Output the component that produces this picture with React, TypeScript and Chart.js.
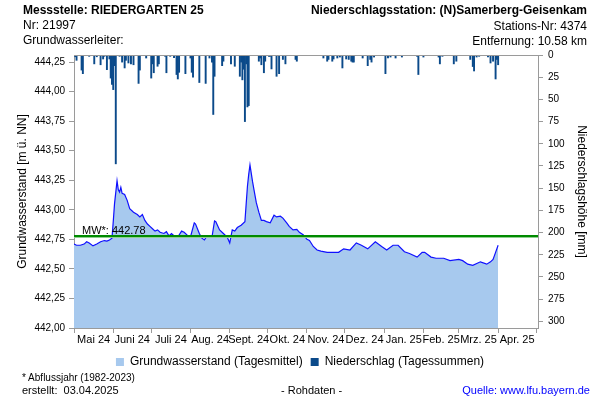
import React, { useEffect, useRef } from 'react';
import { Chart, registerables } from 'chart.js';

Chart.register(...registerables);

const FONT = '"Liberation Sans", Arial, Helvetica, sans-serif';

// x axis: days counted from 1 May 2024
const MONTH_LABELS = ['Mai 24', 'Juni 24', 'Juli 24', 'Aug. 24', 'Sept. 24', 'Okt. 24', 'Nov. 24', 'Dez. 24', 'Jan. 25', 'Feb. 25', 'Mrz. 25', 'Apr. 25'];
const MONTH_START_DAYS = [0, 31, 61, 92, 123, 153, 184, 214, 245, 276, 304, 335, 365];

const LEVEL_TICKS = [442, 442.25, 442.5, 442.75, 443, 443.25, 443.5, 443.75, 444, 444.25];
const PRECIP_TICKS = [0, 25, 50, 75, 100, 125, 150, 175, 200, 225, 250, 275, 300];

const MEAN_LEVEL = 442.78;

// Grundwasserstand (Tagesmittel) [m ü. NN]
const GW_DAYS = [0, 2, 5, 8, 10, 12, 15, 18, 21, 24, 26, 28, 30, 31, 32, 34, 35, 36, 37, 38, 40, 42, 44, 47, 50, 52, 54, 56, 58, 60, 62, 64, 66, 68, 71, 73, 75, 77, 80, 82, 85, 87, 90, 92, 95, 96, 99, 101, 103, 105, 107, 109, 111, 112, 115, 118, 121, 123, 125, 127, 129, 132, 135, 136, 137, 138, 139, 141, 142, 144, 146, 148, 150, 152, 155, 158, 160, 163, 165, 168, 170, 173, 176, 178, 181, 184, 186, 189, 192, 195, 200, 205, 209, 213, 218, 223, 227, 232, 238, 243, 247, 252, 256, 261, 265, 271, 275, 277, 282, 286, 292, 297, 304, 307, 311, 315, 321, 326, 329, 331, 333, 335];
const GW_LEVEL = [442.71, 442.70, 442.70, 442.71, 442.73, 442.72, 442.695, 442.71, 442.73, 442.74, 442.735, 442.745, 442.76, 442.90, 443.05, 443.245, 443.17, 443.15, 443.19, 443.14, 443.13, 443.08, 443.01, 442.98, 442.96, 442.94, 442.96, 442.91, 442.88, 442.86, 442.84, 442.82, 442.83, 442.81, 442.80, 442.815, 442.78, 442.80, 442.77, 442.77, 442.82, 442.81, 442.78, 442.77, 442.89, 442.88, 442.80, 442.76, 442.745, 442.78, 442.77, 442.77, 442.906, 442.90, 442.83, 442.80, 442.77, 442.72, 442.83, 442.82, 442.85, 442.87, 442.90, 443.05, 443.20, 443.30, 443.38, 443.24, 443.18, 443.06, 442.98, 442.91, 442.91, 442.90, 442.89, 442.955, 442.94, 442.946, 442.93, 442.89, 442.86, 442.83, 442.835, 442.81, 442.79, 442.75, 442.74, 442.69, 442.66, 442.65, 442.64, 442.64, 442.64, 442.67, 442.66, 442.72, 442.70, 442.67, 442.73, 442.69, 442.66, 442.70, 442.70, 442.645, 442.63, 442.60, 442.64, 442.64, 442.60, 442.59, 442.59, 442.57, 442.58, 442.57, 442.54, 442.53, 442.56, 442.54, 442.56, 442.58, 442.64, 442.70];

// Niederschlag (Tagessummen) [mm]
const PRECIP_DAYS = [1, 2, 6, 7, 12, 16, 18, 21, 23, 24, 26, 28, 29, 30, 31, 32, 33, 36, 38, 40, 41, 43, 45, 47, 51, 52, 57, 61, 62, 63, 66, 67, 72, 73, 76, 79, 81, 82, 83, 88, 92, 93, 94, 99, 104, 107, 109, 110, 111, 117, 118, 124, 127, 131, 132, 133, 134, 135, 136, 137, 138, 146, 147, 148, 150, 151, 154, 155, 156, 160, 162, 165, 167, 175, 176, 197, 200, 201, 204, 205, 208, 210, 212, 215, 217, 219, 220, 221, 228, 232, 234, 235, 237, 246, 248, 250, 254, 259, 271, 272, 276, 288, 289, 291, 300, 302, 313, 315, 316, 318, 320, 327, 329, 331, 333, 334, 335];
const PRECIP_MM = [2, 6, 17, 21, 1.5, 10, 2, 11, 4.5, 1.5, 16.5, 4.5, 26, 33, 39, 12, 122.6, 1.5, 8, 14.6, 6, 9, 10, 11, 32, 17, 3.4, 26, 10, 20, 12.7, 10, 1.5, 20, 1.5, 3, 22, 27, 19.5, 21, 3.4, 19.5, 25, 31, 32, 3.4, 8, 67, 24, 12, 7, 10, 12.7, 24, 8, 28, 16, 75, 10, 58.5, 57, 7, 3.4, 11, 20, 7, 1.5, 1.5, 15.7, 24, 21, 5, 10, 5, 7, 3.4, 7, 5, 7, 4.5, 3.4, 2.3, 14.6, 4.5, 5, 7, 8, 8, 3.4, 12, 5, 8, 2.3, 21, 3.4, 2.3, 3.4, 2.3, 1.5, 22, 2.3, 2.3, 10, 1.5, 10, 7, 5, 13, 18, 2.3, 1.5, 2.3, 9, 7, 27, 5, 11];

const AXIS_GREY = '#9a9a9a';
const GW_FILL = '#a7c9ee';
const GW_LINE = '#1010ff';
const RAIN_DARK = '#0b4a8a';

const X_TICKS: { value: number }[] = [];
MONTH_LABELS.forEach((_, i) => {
  X_TICKS.push({ value: MONTH_START_DAYS[i] });
  X_TICKS.push({ value: (MONTH_START_DAYS[i] + MONTH_START_DAYS[i + 1]) / 2 });
});
X_TICKS.push({ value: MONTH_START_DAYS[MONTH_START_DAYS.length - 1] });

const overlayPlugin = {
  id: 'overlay',
  afterDatasetsDraw(chart: any) {
    const { ctx, chartArea: a, scales } = chart;
    const y = Math.round(scales.y.getPixelForValue(MEAN_LEVEL));
    ctx.save();
    ctx.lineWidth = 1;
    ctx.strokeStyle = '#8fd08f';
    ctx.beginPath();
    ctx.moveTo(a.left, y + 1.5);
    ctx.lineTo(a.right, y + 1.5);
    ctx.stroke();
    ctx.lineWidth = 2;
    ctx.strokeStyle = '#008a00';
    ctx.beginPath();
    ctx.moveTo(a.left, y);
    ctx.lineTo(a.right, y);
    ctx.stroke();
    ctx.fillStyle = '#000';
    ctx.font = `11px ${FONT}`;
    ctx.textBaseline = 'alphabetic';
    ctx.textAlign = 'left';
    ctx.fillText(`MW*: ${MEAN_LEVEL.toFixed(2)}`, a.left + 8, y - 2);
    ctx.lineWidth = 1;
    ctx.strokeStyle = AXIS_GREY;
    ctx.beginPath();
    ctx.moveTo(a.left, a.top + 0.5);
    ctx.lineTo(a.right, a.top + 0.5);
    ctx.stroke();
    ctx.restore();
  },
};

function ChartCanvas() {
  const ref = useRef<HTMLCanvasElement | null>(null);
  useEffect(() => {
    if (!ref.current) return;
    const chart = new Chart(ref.current, {
      type: 'bar',
      data: {
        datasets: [
          {
            type: 'line',
            label: 'Grundwasserstand (Tagesmittel)',
            data: GW_DAYS.map((d, i) => ({ x: d, y: GW_LEVEL[i] })),
            xAxisID: 'x',
            yAxisID: 'y',
            borderColor: GW_LINE,
            borderWidth: 1.2,
            backgroundColor: GW_FILL,
            fill: 'start',
            pointRadius: 0,
            tension: 0,
            order: 2,
          } as any,
          {
            type: 'bar',
            label: 'Niederschlag (Tagessummen)',
            data: PRECIP_DAYS.map((d, i) => ({ x: d, y: PRECIP_MM[i] })),
            xAxisID: 'x',
            yAxisID: 'y2',
            backgroundColor: RAIN_DARK,
            borderWidth: 0,
            barPercentage: 1,
            categoryPercentage: 1,
            grouped: false,
            order: 1,
          } as any,
        ],
      },
      options: {
        responsive: false,
        animation: false,
        events: [],
        font: { family: FONT },
        color: '#000',
        layout: { padding: { top: 55, bottom: 22, left: 0, right: 0 } },
        plugins: {
          tooltip: { enabled: false },
          legend: {
            position: 'bottom',
            labels: {
              color: '#000',
              font: { size: 12, family: FONT },
              boxWidth: 8,
              boxHeight: 8,
              padding: 8,
              generateLabels: () => [
                { text: 'Grundwasserstand (Tagesmittel)', fillStyle: GW_FILL, strokeStyle: GW_FILL, lineWidth: 0, hidden: false, datasetIndex: 0 },
                { text: 'Niederschlag (Tagessummen)', fillStyle: RAIN_DARK, strokeStyle: RAIN_DARK, lineWidth: 0, hidden: false, datasetIndex: 1 },
              ] as any,
            },
          },
        },
        scales: {
          x: {
            type: 'linear',
            position: 'bottom',
            min: 0,
            max: 366.5,
            offset: false,
            afterBuildTicks: (s: any) => {
              s.ticks = X_TICKS.map((t) => ({ ...t }));
            },
            afterFit: (s: any) => {
              s.height = 20;
            },
            ticks: {
              autoSkip: false,
              maxRotation: 0,
              minRotation: 0,
              padding: 0,
              color: '#000',
              font: { size: 11, family: FONT },
              callback: (_v: any, i: number) => (i % 2 === 1 ? MONTH_LABELS[(i - 1) / 2] : ''),
            },
            grid: {
              display: true,
              drawOnChartArea: false,
              offset: false,
              tickLength: 5,
              color: AXIS_GREY,
              tickColor: (c: any) => (c.index % 2 === 0 ? AXIS_GREY : 'rgba(0,0,0,0)'),
            },
            border: { display: true, color: AXIS_GREY },
          },
          y: {
            type: 'linear',
            position: 'left',
            min: 442,
            max: 444.31,
            afterBuildTicks: (s: any) => {
              s.ticks = LEVEL_TICKS.map((v) => ({ value: v }));
            },
            afterFit: (s: any) => {
              s.width = 74;
            },
            ticks: {
              padding: 4,
              color: '#000',
              font: { size: 10, family: FONT },
              callback: (v: any) => Number(v).toFixed(2).replace('.', ','),
            },
            grid: { drawOnChartArea: false, tickLength: 5, color: AXIS_GREY },
            border: { display: true, color: AXIS_GREY },
            title: {
              display: true,
              text: 'Grundwasserstand [m ü. NN]',
              color: '#000',
              font: { size: 12, family: FONT },
              padding: { top: 15, bottom: 0 },
            },
          },
          y2: {
            type: 'linear',
            position: 'right',
            reverse: true,
            min: 0,
            max: 307.5,
            afterBuildTicks: (s: any) => {
              s.ticks = PRECIP_TICKS.map((v) => ({ value: v }));
            },
            afterFit: (s: any) => {
              s.width = 62;
            },
            ticks: {
              padding: 5,
              color: '#000',
              font: { size: 10, family: FONT },
            },
            grid: { drawOnChartArea: false, tickLength: 5, color: AXIS_GREY },
            border: { display: true, color: AXIS_GREY },
            title: {
              display: true,
              text: 'Niederschlagshöhe [mm]',
              color: '#000',
              font: { size: 12, family: FONT },
              padding: { top: 11, bottom: 0 },
            },
          },
        },
      } as any,
      plugins: [overlayPlugin],
    });
    return () => chart.destroy();
  }, []);
  return <canvas ref={ref} width={600} height={400} style={{ position: 'absolute', left: 0, top: 0, width: 600, height: 400 }} />;
}

const textBase: React.CSSProperties = {
  position: 'absolute',
  fontFamily: FONT,
  color: '#000',
  whiteSpace: 'nowrap',
  margin: 0,
};

export default function App() {
  return (
    <div style={{ position: 'fixed', left: 0, top: 0, width: 600, height: 400, background: '#fff', overflow: 'hidden' }}>
      <ChartCanvas />
      <div style={{ ...textBase, left: 23, top: 3, fontSize: 12, lineHeight: '14px', fontWeight: 'bold' }}>Messstelle: RIEDERGARTEN 25</div>
      <div style={{ ...textBase, left: 23, top: 18, fontSize: 12, lineHeight: '14px' }}>Nr: 21997</div>
      <div style={{ ...textBase, left: 23, top: 33, fontSize: 12, lineHeight: '14px' }}>Grundwasserleiter:</div>
      <div style={{ ...textBase, right: 13, top: 3, fontSize: 12, lineHeight: '14px', fontWeight: 'bold', textAlign: 'right' }}>Niederschlagsstation: (N)Samerberg-Geisenkam</div>
      <div style={{ ...textBase, right: 13, top: 19, fontSize: 12, lineHeight: '14px', textAlign: 'right' }}>Stations-Nr: 4374</div>
      <div style={{ ...textBase, right: 13, top: 34, fontSize: 12, lineHeight: '14px', textAlign: 'right' }}>Entfernung: 10.58 km</div>
      <div style={{ ...textBase, left: 22, top: 372, fontSize: 10, lineHeight: '12px' }}>* Abflussjahr (1982-2023)</div>
      <div style={{ ...textBase, left: 22, top: 384, fontSize: 11, lineHeight: '13px' }}>erstellt:&nbsp;&nbsp;03.04.2025</div>
      <div style={{ ...textBase, left: 281, top: 384, fontSize: 11, lineHeight: '13px' }}>- Rohdaten -</div>
      <div style={{ ...textBase, right: 10, top: 384, fontSize: 11, lineHeight: '13px', color: '#0000ff' }}>Quelle: www.lfu.bayern.de</div>
    </div>
  );
}
